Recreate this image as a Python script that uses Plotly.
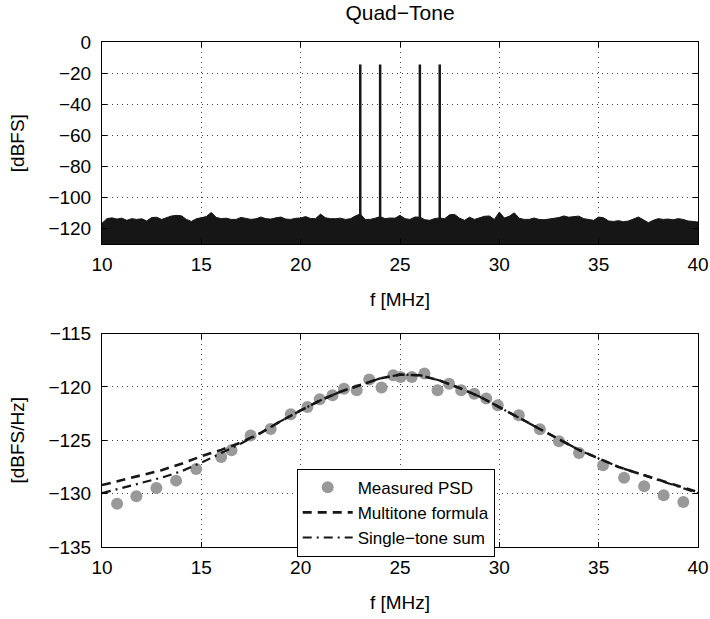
import plotly.graph_objects as go

# ---------------- data ----------------
TONE_F = [23, 24, 26, 27]
TONE_DB = [-14.5, -14.5, -14.5, -14.5]
NOISE_FLOOR_DB = -131.0
NOISE_F_START = 10.0
NOISE_F_STEP = 0.25
NOISE_TOP_DB = [
    -116.5, -113.5, -113.0, -113.8, -113.2, -114.6, -113.5, -114.0, -113.6, -115.0,
    -112.8, -112.6, -114.0, -113.0, -111.8, -111.4, -111.7, -114.0, -115.3, -113.6,
    -113.1, -112.2, -109.5, -112.7, -113.5, -113.2, -114.0, -114.0, -112.7, -113.4,
    -114.0, -113.6, -112.5, -113.5, -113.8, -113.0, -112.5, -113.8, -114.0, -113.3,
    -113.1, -112.2, -113.4, -113.5, -110.6, -113.0, -113.5, -113.5, -113.2, -114.0,
    -113.6, -111.8, -110.5, -114.0, -114.0, -113.2, -112.2, -113.5, -113.1, -113.2,
    -111.4, -113.5, -114.0, -112.5, -112.5, -114.2, -114.6, -113.4, -113.1, -113.5,
    -111.0, -110.8, -113.2, -114.6, -112.6, -114.0, -113.1, -112.0, -111.8, -114.0,
    -109.3, -113.1, -112.0, -109.8, -113.2, -114.0, -114.0, -113.1, -114.0, -114.2,
    -113.8, -113.5, -112.8, -111.8, -112.6, -112.2, -111.9, -113.5, -114.0, -114.6,
    -112.5, -113.0, -115.0, -115.3, -114.8, -115.5, -115.0, -114.0, -112.5, -114.2,
    -116.1, -114.6, -113.5, -114.0, -113.8, -114.2, -113.5, -114.0, -115.0, -115.3,
    -115.7,
]

MEAS_F = [10.76, 11.73, 12.74, 13.73, 14.74, 16.0, 16.52, 17.48, 18.49, 19.5,
          20.34, 20.96, 21.6, 22.18, 22.82, 23.45, 24.07, 24.66, 25.03, 25.59,
          26.23, 26.89, 27.47, 28.08, 28.74, 29.34, 29.92, 30.98, 32.04, 33.0,
          34.01, 35.22, 36.28, 37.29, 38.27, 39.26]
MEAS_PSD = [-130.94, -130.25, -129.47, -128.78, -127.69, -126.56, -125.94, -124.56,
            -123.94, -122.56, -121.88, -121.16, -120.78, -120.16, -120.31, -119.31,
            -120.06, -118.91, -119.06, -119.06, -118.75, -120.31, -119.69, -120.31,
            -120.63, -121.09, -121.72, -122.66, -123.97, -125.09, -126.19, -127.34,
            -128.5, -129.31, -130.16, -130.78]

CURVE_F = [10, 11, 12, 13, 14, 15, 16, 17, 18, 19, 20, 21, 22, 23, 24, 25,
           26, 27, 28, 29, 30, 31, 32, 33, 34, 35, 36, 37, 38, 39, 40]
MULTITONE = [-129.2, -128.75, -128.3, -127.8, -127.2, -126.5, -125.9, -125.2,
             -124.3, -123.2, -122.2, -121.25, -120.45, -119.8, -119.2, -118.85,
             -118.9, -119.4, -120.1, -120.9, -121.9, -122.95, -123.95, -124.95,
             -125.9, -126.7, -127.5, -128.1, -128.7, -129.25, -129.85]
SINGLETONE = [-129.95, -129.45, -129.0, -128.5, -127.9, -127.1, -126.2, -125.3,
              -124.3, -123.2, -122.2, -121.25, -120.45, -119.8, -119.2, -118.85,
              -118.9, -119.4, -120.1, -120.9, -121.9, -122.95, -123.95, -124.95,
              -125.9, -126.7, -127.5, -128.1, -128.7, -129.3, -129.95]

TOP_YTICKS = [0, -20, -40, -60, -80, -100, -120]
BOT_YTICKS = [-115, -120, -125, -130, -135]
XTICKS = [10, 15, 20, 25, 30, 35, 40]

# ---------------- figure ----------------
FONT = "Liberation Sans, Arial, sans-serif"
INK = "#161616"

noise_f = [NOISE_F_START + i * NOISE_F_STEP for i in range(len(NOISE_TOP_DB))]

fig = go.Figure()

# noise band (top panel)
fig.add_trace(go.Scatter(x=noise_f, y=[NOISE_FLOOR_DB] * len(noise_f), mode="lines",
                         line=dict(width=0, color=INK), showlegend=False,
                         hoverinfo="skip", xaxis="x", yaxis="y"))
fig.add_trace(go.Scatter(x=noise_f, y=NOISE_TOP_DB, mode="lines", fill="tonexty",
                         fillcolor=INK, line=dict(width=1, color=INK),
                         showlegend=False, xaxis="x", yaxis="y"))
# tones
tx, ty = [], []
for f, d in zip(TONE_F, TONE_DB):
    tx += [f, f, None]
    ty += [NOISE_FLOOR_DB, d, None]
fig.add_trace(go.Scatter(x=tx, y=ty, mode="lines", line=dict(width=2.5, color=INK),
                         showlegend=False, xaxis="x", yaxis="y"))

# bottom panel
fig.add_trace(go.Scatter(x=MEAS_F, y=MEAS_PSD, mode="markers", name="Measured PSD",
                         marker=dict(size=12, color="#999999"),
                         xaxis="x2", yaxis="y2"))
fig.add_trace(go.Scatter(x=CURVE_F, y=MULTITONE, mode="lines", name="Multitone formula",
                         line=dict(color=INK, width=2.6, dash="9px,6px"),
                         xaxis="x2", yaxis="y2"))
fig.add_trace(go.Scatter(x=CURVE_F, y=SINGLETONE, mode="lines", name="Single\u2212tone sum",
                         line=dict(color=INK, width=2.2, dash="9px,5px,2px,5px"),
                         xaxis="x2", yaxis="y2"))

axis_common = dict(
    showline=True, linecolor="black", linewidth=1, mirror="ticks",
    ticks="inside", ticklen=5, tickcolor="black", tickwidth=1,
    showgrid=True, gridcolor="#444444", gridwidth=1, griddash="1px,4px",
    zeroline=False, automargin=False,
    tickfont=dict(family=FONT, size=19, color="black"),
)

fig.update_layout(
    template="none",
    width=710, height=619,
    margin=dict(l=102, r=12, t=42, b=72),
    paper_bgcolor="white", plot_bgcolor="white",
    font=dict(family=FONT, size=19, color="black"),
    showlegend=True,
    title=dict(text="Quad\u2212Tone", x=0.5, xref="paper", xanchor="center",
               y=1 - 13 / 619, yref="container", yanchor="middle",
               font=dict(family=FONT, size=21, color="black")),
    xaxis=dict(axis_common, domain=[0, 1], range=[10, 40], tickvals=XTICKS,
               anchor="y", ticklabelstandoff=3,
               title=dict(text="f [MHz]", standoff=18,
                          font=dict(family=FONT, size=19))),
    yaxis=dict(axis_common, domain=[0.5994, 1], range=[-130, 0], tickvals=TOP_YTICKS,
               anchor="x", ticklabelstandoff=6,
               title=dict(text="[dBFS]", standoff=18,
                          font=dict(family=FONT, size=19))),
    xaxis2=dict(axis_common, domain=[0, 1], range=[10, 40], tickvals=XTICKS,
                anchor="y2", ticklabelstandoff=3,
                title=dict(text="f [MHz]", standoff=18,
                           font=dict(family=FONT, size=19))),
    yaxis2=dict(axis_common, domain=[0, 0.4226], range=[-135, -115], tickvals=BOT_YTICKS,
                anchor="x2", ticklabelstandoff=6,
                title=dict(text="[dBFS/Hz]", standoff=18,
                           font=dict(family=FONT, size=19))),
    legend=dict(x=0.3267, y=0.155, xanchor="left", yanchor="top",
                bgcolor="white", bordercolor="black", borderwidth=1,
                font=dict(family=FONT, size=17, color="black"),
                itemwidth=50, tracegroupgap=0, traceorder="normal"),
)

fig.write_html("out.html",
               config={"displayModeBar": False, "staticPlot": True},
               post_script="document.body.style.margin='0';document.body.style.padding='0';")
